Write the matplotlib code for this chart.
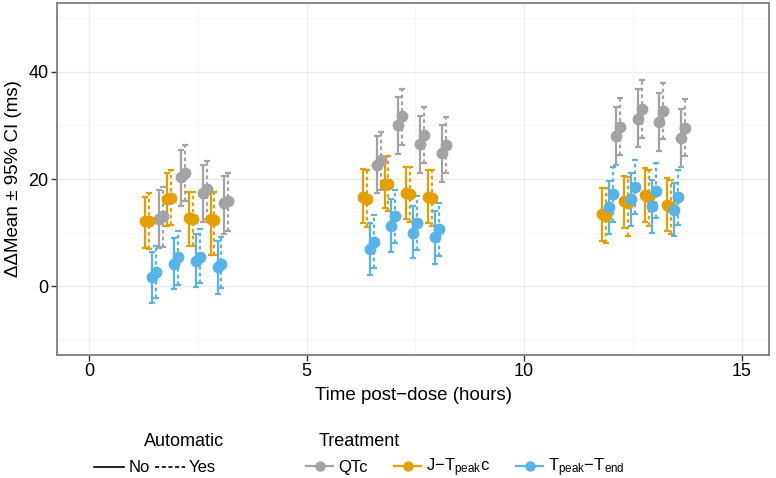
import matplotlib
matplotlib.use("Agg")
import matplotlib.pyplot as plt
from matplotlib.lines import Line2D

plt.rcParams['font.family'] = ['Liberation Sans', 'DejaVu Sans']
plt.rcParams['mathtext.fontset'] = 'custom'
plt.rcParams['mathtext.rm'] = 'Liberation Sans'
plt.rcParams['mathtext.default'] = 'regular'

# nominal time points (hours)
times = [1.5, 2, 2.5, 3, 6.5, 7, 7.5, 8, 12, 12.5, 13, 13.5]

# QTc
qtc_no_mean = [12.5, 20.4, 17.3, 15.5, 22.6, 30.1, 26.5, 24.9, 28.1, 31.3, 30.7, 27.7]
qtc_no_lo = [7.1, 15.0, 12.0, 9.7, 17.3, 24.7, 21.2, 19.5, 22.6, 25.9, 25.3, 22.3]
qtc_no_hi = [18.0, 25.5, 22.6, 20.6, 28.0, 35.4, 31.8, 30.1, 33.5, 36.8, 36.1, 33.1]
qtc_yes_mean = [13.1, 21.2, 18.1, 15.9, 23.5, 31.8, 28.2, 26.4, 29.8, 33.0, 32.7, 29.6]
qtc_yes_lo = [7.3, 15.8, 12.5, 10.2, 17.9, 26.4, 22.9, 21.1, 24.5, 27.6, 27.4, 24.3]
qtc_yes_hi = [18.6, 26.4, 23.4, 21.2, 28.8, 36.9, 33.4, 31.5, 35.1, 38.4, 38.0, 34.9]

# J-Tpeak c
jt_no_mean = [12.1, 16.3, 12.7, 12.5, 16.7, 19.1, 17.3, 16.7, 13.5, 15.8, 17.0, 15.1]
jt_no_lo = [7.1, 11.2, 7.5, 5.9, 11.7, 14.5, 12.5, 11.8, 8.5, 10.8, 12.0, 10.2]
jt_no_hi = [16.7, 21.1, 17.6, 17.6, 21.8, 24.1, 22.2, 21.6, 18.4, 20.6, 22.0, 20.1]
jt_yes_mean = [12.2, 16.5, 12.6, 12.4, 16.3, 19.1, 17.2, 16.5, 13.1, 15.5, 16.6, 14.8]
jt_yes_lo = [6.9, 11.4, 7.4, 5.8, 11.1, 14.0, 12.0, 11.3, 8.0, 9.3, 11.2, 9.7]
jt_yes_hi = [17.4, 21.6, 17.6, 17.6, 21.6, 24.3, 22.2, 21.6, 18.3, 20.4, 21.7, 19.9]

# Tpeak-Tend
tpe_no_mean = [1.7, 4.2, 4.7, 3.6, 7.0, 11.3, 10.0, 9.1, 14.8, 16.2, 15.0, 14.3]
tpe_no_lo = [-3.2, -0.6, -0.1, -1.4, 2.1, 6.4, 5.2, 4.2, 9.8, 11.2, 10.0, 9.3]
tpe_no_hi = [6.4, 8.9, 9.7, 8.4, 11.8, 16.2, 15.0, 14.0, 19.7, 21.1, 19.8, 19.2]
tpe_yes_mean = [2.6, 5.4, 5.4, 4.2, 8.3, 13.1, 11.8, 10.7, 17.2, 18.6, 17.8, 16.6]
tpe_yes_lo = [-2.3, 0.2, 0.6, -0.4, 3.3, 8.0, 6.7, 5.6, 12.0, 13.5, 12.7, 11.4]
tpe_yes_hi = [7.5, 10.3, 10.6, 9.2, 13.3, 17.9, 16.8, 15.6, 22.3, 23.6, 22.9, 21.7]

treat_labels = ["QTc", r"J$-$T$_{peak}$c", r"T$_{peak}$$-$T$_{end}$"]
colors = ["#A3A3A3", "#E69F00", "#56B4E9"]
dodge = [0.11, -0.21, -0.05]   # per treatment
auto_shift = 0.09               # Yes relative to No

series = [
    (0, qtc_no_mean, qtc_no_lo, qtc_no_hi, qtc_yes_mean, qtc_yes_lo, qtc_yes_hi),
    (1, jt_no_mean, jt_no_lo, jt_no_hi, jt_yes_mean, jt_yes_lo, jt_yes_hi),
    (2, tpe_no_mean, tpe_no_lo, tpe_no_hi, tpe_yes_mean, tpe_yes_lo, tpe_yes_hi),
]

fig = plt.figure(figsize=(7.76, 4.78), dpi=100)
ax = fig.add_axes([0.0735, 0.257, 0.9175, 0.737])

for i, nm, nl, nh, ym, yl, yh in series:
    c = colors[i]
    for k, (m, lo, hi) in enumerate([(nm, nl, nh), (ym, yl, yh)]):
        x = [t + dodge[i] + k * auto_shift for t in times]
        err = [[mm - l for mm, l in zip(m, lo)], [h - mm for mm, h in zip(m, hi)]]
        ls = '-' if k == 0 else (0, (1.6, 1.4))
        eb = ax.errorbar(x, m, yerr=err, fmt='o', color=c, ms=7.5, elinewidth=1.6,
                         capsize=2.5, capthick=1.6, zorder=3)
        eb[2][0].set_linestyle(ls)

ax.set_xlim(-0.74, 15.63)
ax.set_ylim(-12.9, 52.9)
ax.set_xticks([0, 5, 10, 15])
ax.set_yticks([0, 20, 40])
ax.set_xticks([2.5, 7.5, 12.5], minor=True)
ax.set_yticks([-10, 10, 30, 50], minor=True)
ax.grid(True, which='major', color='#EBEBEB', lw=0.9)
ax.grid(True, which='minor', color='#F4F4F4', lw=0.6)
ax.set_axisbelow(True)
ax.tick_params(which='minor', length=0)
ax.tick_params(which='major', length=4, width=1, color='#333333', labelsize=13,
               labelcolor='black', pad=2)
for s in ax.spines.values():
    s.set_color('#7F7F7F')
    s.set_linewidth(1.3)

ax.set_xlabel("Time post\u2212dose (hours)", fontsize=13.5, labelpad=5)
ax.set_ylabel("\u0394\u0394Mean \u00b1 95% CI (ms)", fontsize=13.5, labelpad=5)

# legends below the panel, titles placed separately
fig.text(0.237, 0.077, "Automatic", fontsize=13, ha='center', va='center')
fig.text(0.463, 0.077, "Treatment", fontsize=13, ha='center', va='center')

auto_handles = [Line2D([], [], color='black', lw=1.2, ls='-'),
                Line2D([], [], color='black', lw=1.2, ls=(0, (2.5, 1.5)))]
fig.legend(auto_handles, ["No", "Yes"], ncol=2,
           loc='center', bbox_to_anchor=(0.2, 0.021), frameon=False,
           fontsize=12, handlelength=1.8, columnspacing=0.3, handletextpad=0.25,
           borderpad=0, borderaxespad=0)

treat_handles = [Line2D([], [], color=c, marker='o', ms=6.5, lw=1.6) for c in colors]
fig.legend(treat_handles, treat_labels, ncol=3,
           loc='center', bbox_to_anchor=(0.6, 0.021), frameon=False,
           fontsize=12, handlelength=1.6, columnspacing=1.6, handletextpad=0.3,
           borderpad=0, borderaxespad=0)

fig.savefig("out.png", dpi=100)
